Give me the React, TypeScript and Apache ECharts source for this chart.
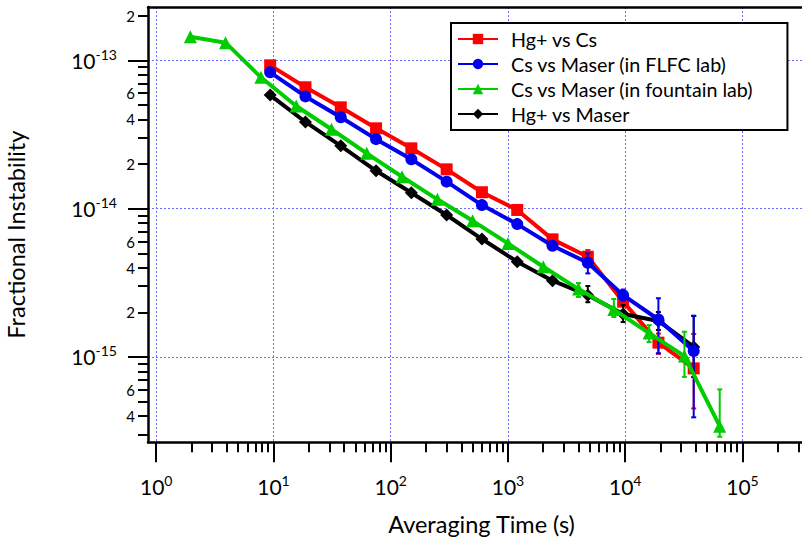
import React, { useEffect, useRef } from 'react';
import * as echarts from 'echarts';

const FONT = 'Lato, "Open Sans", sans-serif';

// ---- data ----
const seriesNames = [
  'Hg+ vs Cs',
  'Cs vs Maser (in FLFC lab)',
  'Cs vs Maser (in fountain lab)',
  'Hg+ vs Maser',
];
const tauFLFC = [9.375, 18.75, 37.5, 75, 150, 300, 600, 1200, 2400, 4800, 9600, 19200, 38400];
const tauFountain = [1.953, 3.906, 7.813, 15.63, 31.25, 62.5, 125, 250, 500, 1000, 2000, 4000, 8000, 16000, 32000, 64000];

const hgCs = [9.25e-14, 6.58e-14, 4.82e-14, 3.48e-14, 2.55e-14, 1.84e-14, 1.29e-14, 9.8e-15, 6.21e-15, 4.74e-15, 2.36e-15, 1.25e-15, 8.38e-16];
const csMaserFLFC = [8.3e-14, 5.71e-14, 4.13e-14, 2.94e-14, 2.15e-14, 1.52e-14, 1.057e-14, 7.87e-15, 5.62e-15, 4.32e-15, 2.61e-15, 1.79e-15, 1.096e-15];
const csMaserFountain = [1.44e-13, 1.315e-13, 7.68e-14, 4.92e-14, 3.43e-14, 2.36e-14, 1.64e-14, 1.156e-14, 8.28e-15, 5.83e-15, 4.06e-15, 2.87e-15, 2.09e-15, 1.45e-15, 1.014e-15, 3.42e-16];
const hgMaser = [5.83e-14, 3.84e-14, 2.65e-14, 1.8e-14, 1.28e-14, 9.06e-15, 6.24e-15, 4.39e-15, 3.27e-15, 2.61e-15, 1.95e-15, 1.75e-15, 1.17e-15];

// error bars: [tau, lower, upper]
const errHgCs = [[4800, 4.3e-15, 5.26e-15], [9600, 2.05e-15, 2.6e-15], [19200, 1.05e-15, 1.44e-15], [38400, 4.5e-16, 1.43e-15]];
const errCsMaserFLFC = [[4800, 3.66e-15, 5.0e-15], [9600, 2.4e-15, 2.85e-15], [19200, 1.06e-15, 2.49e-15], [38400, 3.92e-16, 1.9e-15]];
const errCsMaserFountain = [[4000, 2.54e-15, 3.15e-15], [8000, 1.86e-15, 2.46e-15], [16000, 1.26e-15, 1.64e-15], [32000, 7.35e-16, 1.48e-15], [64000, 2.9e-16, 6.05e-16]];
const errHgMaser = [[4800, 2.34e-15, 3.01e-15], [9600, 1.72e-15, 2.24e-15], [19200, 1.52e-15, 2.01e-15], [38400, 7.33e-16, 1.89e-15]];

// axis ticks (log10 exponents and mantissas)
const xDecades = [0, 1, 2, 3, 4, 5];
const yDecades = [-16, -15, -14, -13];
const minorMantissas = [2, 3, 4, 5, 6, 7, 8, 9];
const labeledMantissas = [2, 4, 6];

const X_MIN = -0.07;
const X_MAX = 5.508;
const Y_MIN = -15.575;
const Y_MAX = -12.6407;

const colors = ['#ff0000', '#0000ee', '#00cc00', '#000000'];
const symbols = ['rect', 'circle', 'triangle', 'diamond'];
const symbolSizes = [12, 12, 13, 13];
const zs = [2, 4, 5, 3];

const lg = (v: number) => Math.log10(v);
const inRange = (v: number, a: number, b: number) => v >= a - 1e-9 && v <= b + 1e-9;

function minorValues(decades: number[], mants: number[], lo: number, hi: number) {
  const out: number[] = [];
  decades.forEach((e) => mants.forEach((m) => {
    const v = e + lg(m);
    if (inRange(v, lo, hi)) out.push(v);
  }));
  return out;
}

function buildOption() {
  const taus = [tauFLFC, tauFLFC, tauFountain, tauFLFC];
  const vals = [hgCs, csMaserFLFC, csMaserFountain, hgMaser];
  const errs = [errHgCs, errCsMaserFLFC, errCsMaserFountain, errHgMaser];

  const series: any[] = [];
  seriesNames.forEach((name, i) => {
    series.push({
      type: 'line',
      name,
      data: vals[i].map((v, j) => [lg(taus[i][j]), lg(v)]),
      symbol: symbols[i],
      symbolSize: symbolSizes[i],
      showAllSymbol: true,
      lineStyle: { color: colors[i], width: 4 },
      itemStyle: { color: colors[i], borderWidth: 0 },
      z: zs[i],
      emphasis: { disabled: true },
      silent: true,
    });
    series.push({
      type: 'custom',
      name: name + ' err',
      data: errs[i].map((e) => [lg(e[0]), lg(e[1]), lg(e[2])]),
      encode: { x: 0, y: [1, 2] },
      z: zs[i],
      silent: true,
      renderItem: (params: any, api: any) => {
        const x = api.value(0);
        const p1 = api.coord([x, api.value(1)]);
        const p2 = api.coord([x, api.value(2)]);
        const w = 2.5;
        const st = { stroke: colors[i], lineWidth: 2 };
        return {
          type: 'group',
          children: [
            { type: 'line', shape: { x1: p1[0], y1: p1[1], x2: p2[0], y2: p2[1] }, style: st },
            { type: 'line', shape: { x1: p1[0] - w, y1: p1[1], x2: p1[0] + w, y2: p1[1] }, style: st },
            { type: 'line', shape: { x1: p2[0] - w, y1: p2[1], x2: p2[0] + w, y2: p2[1] }, style: st },
          ],
        };
      },
    });
  });

  const splitLine = { show: true, lineStyle: { color: '#6b6bff', width: 1, type: [2, 2] } };
  const axisLineStyle = { color: '#000', width: 2.5 };
  const superRich = {
    b: { fontSize: 21, fontFamily: FONT, color: '#000', lineHeight: 26 },
    s: { fontSize: 14, fontFamily: FONT, color: '#000', verticalAlign: 'top', lineHeight: 14 },
  };

  const xMajor = xDecades.filter((v) => inRange(v, X_MIN, X_MAX));
  const xMinor = minorValues(xDecades, minorMantissas, X_MIN, X_MAX);
  const yMajor = yDecades.filter((v) => inRange(v, Y_MIN, Y_MAX));
  const yMinor = minorValues(yDecades, minorMantissas, Y_MIN, Y_MAX);
  const yMinorLabeled = minorValues(yDecades, labeledMantissas, Y_MIN, Y_MAX);

  return {
    animation: false,
    backgroundColor: '#fff',
    textStyle: { fontFamily: FONT },
    grid: { left: 148, top: 7, right: 0, bottom: 101.7, containLabel: false, outerBoundsMode: 'none' },
    legend: {
      data: seriesNames,
      orient: 'vertical',
      left: 451,
      top: 23,
      backgroundColor: '#fff',
      borderColor: '#000',
      borderWidth: 2,
      borderRadius: 0,
      padding: [6, 34, 6, 6],
      itemWidth: 40,
      itemHeight: 13,
      itemGap: 5,
      selectedMode: false,
      textStyle: { fontFamily: FONT, fontSize: 19.7, color: '#000', lineHeight: 20, padding: [0, 0, 0, 8] },
      z: 10,
    },
    xAxis: [
      {
        type: 'value', position: 'bottom', min: X_MIN, max: X_MAX,
        name: 'Averaging Time (s)', nameLocation: 'middle', nameGap: 70,
        nameTextStyle: { fontFamily: FONT, fontSize: 23.5, color: '#000', padding: [0, 0, 0, 13] },
        axisLine: { show: true, onZero: false, lineStyle: axisLineStyle },
        axisTick: { show: true, customValues: xMajor, length: 20, lineStyle: { color: '#000', width: 2 } },
        axisLabel: {
          show: true, customValues: xMajor, margin: 31, fontFamily: FONT,
          formatter: (v: number) => `{b|10}{s|${Math.round(v)}}`,
          rich: superRich,
        },
        splitLine,
      },
      {
        type: 'value', position: 'bottom', min: X_MIN, max: X_MAX,
        axisLine: { show: false, onZero: false },
        axisTick: { show: true, customValues: xMinor, length: 10, lineStyle: { color: '#000', width: 2 } },
        axisLabel: { show: false },
        splitLine: { show: false },
      },
      {
        type: 'value', position: 'top', min: X_MIN, max: X_MAX,
        axisLine: { show: true, onZero: false, lineStyle: axisLineStyle },
        axisTick: { show: false },
        axisLabel: { show: false },
        splitLine: { show: false },
      },
    ],
    yAxis: [
      {
        type: 'value', position: 'left', min: Y_MIN, max: Y_MAX,
        name: 'Fractional Instability', nameLocation: 'middle', nameGap: 120,
        nameTextStyle: { fontFamily: FONT, fontSize: 23.5, color: '#000', padding: [0, 20, 0, 0] },
        axisLine: { show: true, onZero: false, lineStyle: axisLineStyle },
        axisTick: { show: true, customValues: yMajor, length: 20, lineStyle: { color: '#000', width: 2 } },
        axisLabel: {
          show: true, customValues: yMajor, margin: 31, fontFamily: FONT,
          formatter: (v: number) => `{b|10}{s|${Math.round(v)}}`,
          rich: superRich,
        },
        splitLine,
      },
      {
        type: 'value', position: 'left', min: Y_MIN, max: Y_MAX,
        axisLine: { show: false, onZero: false },
        axisTick: { show: true, customValues: yMinor, length: 10, lineStyle: { color: '#000', width: 2 } },
        axisLabel: {
          show: true, customValues: yMinorLabeled, margin: 13, fontFamily: FONT, fontSize: 15, color: '#000',
          formatter: (v: number) => {
            const e = Math.floor(v + 1e-9);
            return String(Math.round(Math.pow(10, v - e)));
          },
        },
        splitLine: { show: false },
      },
    ],
    series,
  };
}

export default function App() {
  const ref = useRef<HTMLDivElement>(null);
  useEffect(() => {
    document.body.style.margin = '0';
    const chart = echarts.init(ref.current as HTMLDivElement, null, { renderer: 'svg', width: 802, height: 544 });
    chart.setOption(buildOption() as any);
    return () => chart.dispose();
  }, []);
  return <div ref={ref} style={{ width: 802, height: 544, position: 'absolute', left: 0, top: 0 }} />;
}
